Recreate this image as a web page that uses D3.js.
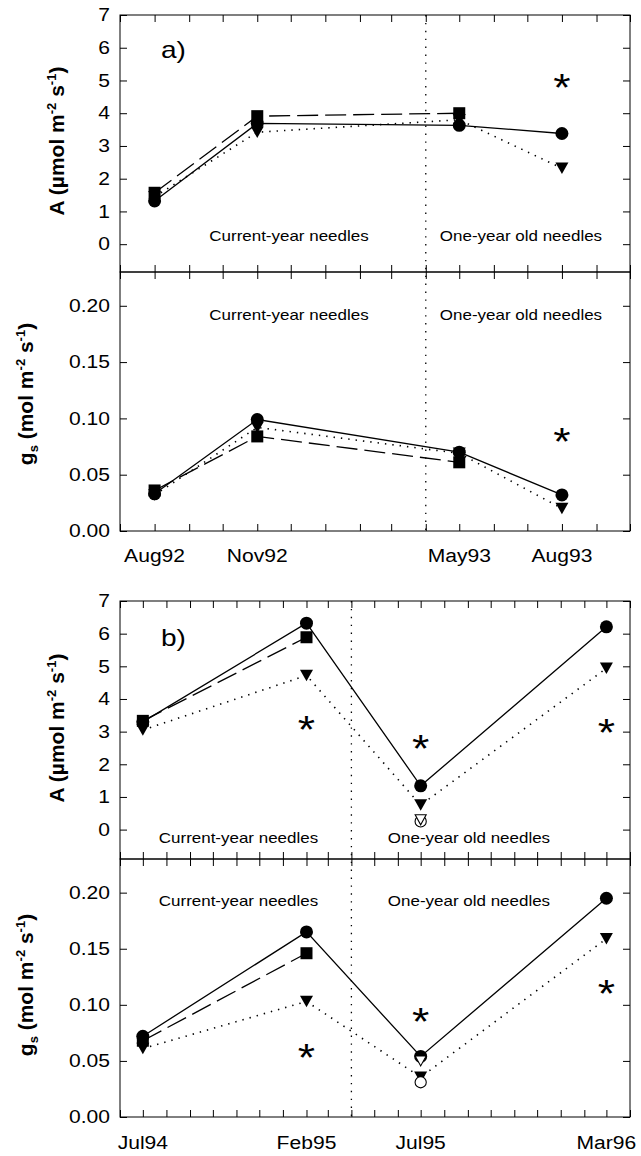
<!DOCTYPE html>
<html><head><meta charset="utf-8">
<script src="https://cdn.jsdelivr.net/npm/d3@7"></script>
<style>body{margin:0;background:#fff} svg{display:block}</style>
</head><body><svg id="c" width="641" height="1156"></svg>
<script>
// ---------- Panel a data ----------
const datesA = ["1992-08","1992-11","1993-05","1993-08"];
const labelsA = ["Aug92","Nov92","May93","Aug93"];
const aA_circle   = [1.32, 3.69, 3.63, 3.38];
const aA_square   = [1.57, 3.91, 4.00, null];
const aA_triangle = [1.45, 3.42, 3.80, 2.32];
const aA_star     = [null, null, null, 5.04];
const aG_circle   = [0.033, 0.099, 0.070, 0.032];
const aG_square   = [0.036, 0.084, 0.061, null];
const aG_triangle = [0.032, 0.092, 0.069, 0.020];
const aG_star     = [null, null, null, 0.087];
// ---------- Panel b data ----------
const datesB = ["1994-07","1995-02","1995-07","1996-03"];
const labelsB = ["Jul94","Feb95","Jul95","Mar96"];
const bA_circle       = [3.30, 6.32, 1.34, 6.21];
const bA_square       = [3.33, 5.89, null, null];
const bA_triangle     = [3.05, 4.72, 0.75, 4.94];
const bA_openTriangle = [null, null, 0.30, null];
const bA_openCircle   = [null, null, 0.25, null];
const bA_star         = [null, 3.30, 2.74, 3.23];
const bG_circle       = [0.072, 0.165, 0.054, 0.195];
const bG_square       = [0.068, 0.146, null, null];
const bG_triangle     = [0.061, 0.103, 0.0355, 0.159];
const bG_openTriangle = [null, null, 0.050, null];
const bG_openCircle   = [null, null, 0.031, null];
const bG_star         = [null, 0.060, 0.092, 0.117];
// ---------- ticks / labels ----------
const aTicks = [0,1,2,3,4,5,6,7];
const gTicks = [0,0.05,0.10,0.15,0.20];
const xDomainA = ["1992-07","1993-10"], dividerA = "1993-04";
const xDomainB = ["1994-06","1996-04"], dividerB = "1995-04";
const regionLabels = ["Current-year needles","One-year old needles"];

const FONT = '"Liberation Sans", Arial, Helvetica, sans-serif';
const STRETCH = 1.17;
const STAR = 38;
const svg = d3.select("#c");
const parse = d3.utcParse("%Y-%m");
const L = 120, R = 630;

function triPath(w,h){ return `M${-w/2},${-h/2}L${w/2},${-h/2}L0,${h/2}Z`; }

function drawSeries(g, x, y, dates, vals, kind, dash, open) {
  const pts = dates.map((d,i)=>({d, v: vals[i]})).filter(p=>p.v!=null);
  if (dash !== undefined) {
    g.append("path").datum(pts)
      .attr("d", d3.line().x(p=>x(p.d)).y(p=>y(p.v)))
      .attr("fill","none").attr("stroke","#000")
      .attr("stroke-width", dash==="dot"?1.6:1.3)
      .attr("stroke-dasharray", dash==="dot" ? "1.4,6" : dash==="dash" ? "21,7" : null);
  }
  const m = g.selectAll(null).data(pts).enter();
  const fill = open ? "#fff" : "#000";
  if (kind==="circle") m.append("circle").attr("cx",p=>x(p.d)).attr("cy",p=>y(p.v))
      .attr("r", open?5.6:6.5).attr("fill",fill).attr("stroke","#000").attr("stroke-width",open?1.1:0);
  if (kind==="square") m.append("rect").attr("x",p=>x(p.d)-6).attr("y",p=>y(p.v)-6)
      .attr("width",12).attr("height",12).attr("fill",fill);
  if (kind==="triangle") m.append("path").attr("transform",p=>`translate(${x(p.d)},${y(p.v)})`)
      .attr("d", open?triPath(11,10):triPath(13,11.5)).attr("fill",fill).attr("stroke","#000").attr("stroke-width",open?1.1:0);
  if (kind==="star") m.append("text").attr("class","st").attr("x",p=>x(p.d)).attr("y",p=>y(p.v)+0.57*STAR)
      .attr("text-anchor","middle").attr("font-size",STAR).attr("font-family",FONT).text("*");
}

function frame(x, y, top, bottom, yt, fmt) {
  svg.append("rect").attr("x",L).attr("y",top).attr("width",R-L).attr("height",bottom-top)
     .attr("fill","none").attr("stroke","#000").attr("stroke-width",1);
  const months = d3.utcMonth.range(x.domain()[0], d3.utcMonth.offset(x.domain()[1],1));
  const clean = g => g.select(".domain").remove();
  svg.append("g").attr("transform",`translate(0,${bottom})`)
     .call(d3.axisBottom(x).tickValues(months).tickSize(-7).tickFormat("")).call(clean);
  svg.append("g").attr("transform",`translate(0,${top})`)
     .call(d3.axisTop(x).tickValues(months).tickSize(-7).tickFormat("")).call(clean);
  svg.append("g").attr("transform",`translate(${R},0)`)
     .call(d3.axisRight(y).tickValues(yt).tickSize(-7).tickFormat("")).call(clean);
  const ax = svg.append("g").attr("transform",`translate(${L},0)`)
     .call(d3.axisLeft(y).tickValues(yt).tickSize(-7).tickPadding(10).tickFormat(fmt)).call(clean);
  ax.selectAll("text").attr("font-size",18).attr("font-family",FONT).attr("fill","#000").attr("class","st");
}

function titleA(cx, cy) {
  const t = svg.append("text").attr("transform",`translate(${cx},${cy}) rotate(-90)`)
    .attr("text-anchor","middle").attr("font-family",FONT).attr("font-size",21).attr("font-weight","bold");
  t.append("tspan").text("A (µmol m");
  t.append("tspan").attr("font-size",13).attr("dy",-8).text("-2");
  t.append("tspan").attr("dy",8).text(" s");
  t.append("tspan").attr("font-size",13).attr("dy",-8).text("-1");
  t.append("tspan").attr("dy",8).text(")");
}
function titleG(cx, cy) {
  const t = svg.append("text").attr("transform",`translate(${cx},${cy}) rotate(-90)`)
    .attr("text-anchor","middle").attr("font-family",FONT).attr("font-size",21).attr("font-weight","bold");
  t.append("tspan").text("g");
  t.append("tspan").attr("font-size",13).attr("dy",5).text("s");
  t.append("tspan").attr("dy",-5).text(" (mol m");
  t.append("tspan").attr("font-size",13).attr("dy",-8).text("-2");
  t.append("tspan").attr("dy",8).text(" s");
  t.append("tspan").attr("font-size",13).attr("dy",-8).text("-1");
  t.append("tspan").attr("dy",8).text(")");
}
function label(x, y, txt, size, anchor) {
  svg.append("text").attr("class","st").attr("x",x).attr("y",y).attr("text-anchor",anchor||"middle")
    .attr("font-family",FONT).attr("font-size",size).attr("fill","#000").text(txt);
}

function drawPanel(o) {
  const x = d3.scaleUtc().domain(o.xDomain.map(parse)).range([L,R]);
  const yA = d3.scaleLinear().domain([o.aMin,7]).range([o.mid,o.top]);
  const yG = d3.scaleLinear().domain([0,0.23]).range([o.bottom,o.mid]);
  const dates = o.dates.map(parse);
  frame(x, yA, o.top, o.mid, aTicks, d3.format("d"));
  frame(x, yG, o.mid, o.bottom, gTicks, d3.format(".2f"));
  const dx = x(parse(o.divider));
  svg.append("line").attr("x1",dx).attr("x2",dx).attr("y1",o.top).attr("y2",o.bottom)
     .attr("stroke","#000").attr("stroke-width",1.3).attr("stroke-dasharray","1.4,6.5");
  const g = svg.append("g");
  const S = o.series;
  drawSeries(g, x, yA, dates, S.aC, "circle", "solid");
  drawSeries(g, x, yA, dates, S.aS, "square", "dash");
  drawSeries(g, x, yA, dates, S.aT, "triangle", "dot");
  drawSeries(g, x, yG, dates, S.gC, "circle", "solid");
  drawSeries(g, x, yG, dates, S.gS, "square", "dash");
  drawSeries(g, x, yG, dates, S.gT, "triangle", "dot");
  if (S.aOC) drawSeries(g, x, yA, dates, S.aOC, "circle", undefined, true);
  if (S.aOT) drawSeries(g, x, yA, dates, S.aOT, "triangle", undefined, true);
  if (S.gOT) drawSeries(g, x, yG, dates, S.gOT, "triangle", undefined, true);
  if (S.gOC) drawSeries(g, x, yG, dates, S.gOC, "circle", undefined, true);
  drawSeries(g, x, yA, dates, S.aStar, "star");
  drawSeries(g, x, yG, dates, S.gStar, "star");
  dates.forEach((d,i)=> label(x(d), o.xLabelY, o.labels[i], 18));
  label(o.reg[0], o.regA, regionLabels[0], 14.5);
  label(o.reg[1], o.regA, regionLabels[1], 14.5);
  label(o.reg[0], o.regG, regionLabels[0], 14.5);
  label(o.reg[1], o.regG, regionLabels[1], 14.5);
  label(161, o.panelLabelY, o.panelLabel, 24, "start");
  titleA(64, o.titleAy);
  titleG(33, o.titleGy);
}

drawPanel({xDomain:xDomainA, divider:dividerA, dates:datesA, labels:labelsA,
  top:15, mid:272, bottom:531, aMin:-0.85, xLabelY:562,
  reg:[289,521], regA:241, regG:320, panelLabel:"a)", panelLabelY:58, titleAy:141, titleGy:394,
  series:{aC:aA_circle,aS:aA_square,aT:aA_triangle,aStar:aA_star,
          gC:aG_circle,gS:aG_square,gT:aG_triangle,gStar:aG_star}});
drawPanel({xDomain:xDomainB, divider:dividerB, dates:datesB, labels:labelsB,
  top:601, mid:859, bottom:1117, aMin:-0.9, xLabelY:1149,
  reg:[238.5,469], regA:843, regG:906, panelLabel:"b)", panelLabelY:646, titleAy:728, titleGy:985,
  series:{aC:bA_circle,aS:bA_square,aT:bA_triangle,aOT:bA_openTriangle,aOC:bA_openCircle,aStar:bA_star,
          gC:bG_circle,gS:bG_square,gT:bG_triangle,gOT:bG_openTriangle,gOC:bG_openCircle,gStar:bG_star}});

svg.selectAll("text.st").each(function(){
  const w = this.getComputedTextLength();
  d3.select(this).attr("textLength", w*STRETCH).attr("lengthAdjust","spacingAndGlyphs");
});
</script></body></html>
